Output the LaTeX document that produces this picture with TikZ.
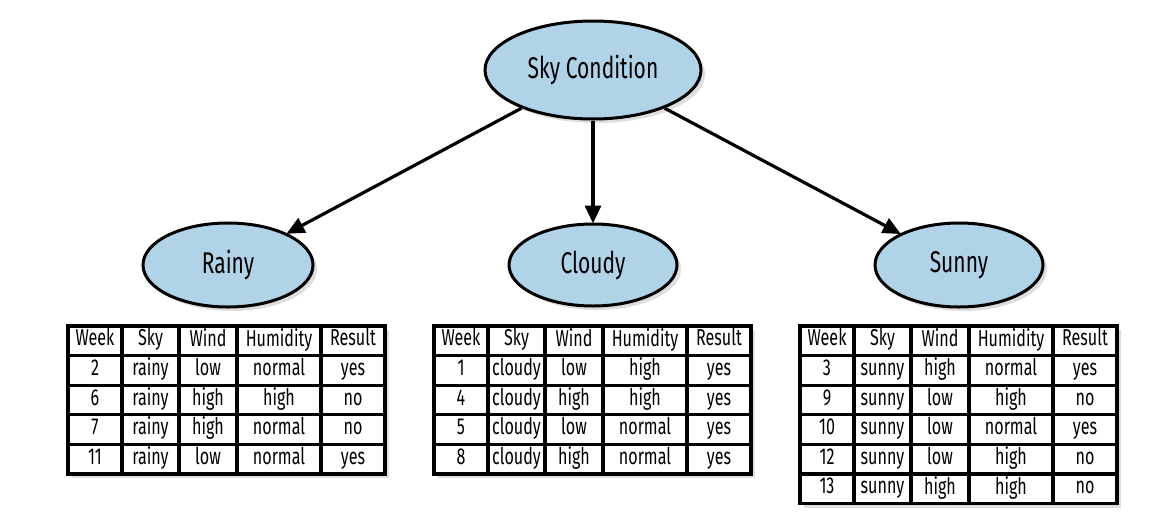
\documentclass[tikz,border=0pt]{standalone}
\usepackage{fontspec}
\setmainfont{Fira Sans}[FakeStretch=0.7]
\usetikzlibrary{arrows.meta,shapes.geometric}
\definecolor{nodeblue}{RGB}{176,211,232}
\tikzset{
  bubble/.style={ellipse, draw=black, line width=3pt, fill=nodeblue, inner sep=0pt,
    font=\fontsize{30}{32}\selectfont},
  bshadow/.style={fill=black, opacity=0.13},
  link/.style={line width=3.2pt, -{Triangle[length=18pt,width=16pt]}, shorten >=-1pt},
  grid/.style={line width=3.2pt, line join=miter},
  cell/.style={inner sep=0pt, font=\fontsize{23}{25}\selectfont},
}
\newcommand\tableshadow[2]{% x0, rows
  \fill[bshadow] ({#1+4},{326+4}) rectangle ({#1+317+4},{326+#2*29.6+4});
}
\newcommand\tablegrid[2]{% x0, rows
  \fill[white] (#1,326) rectangle ({#1+317},{326+#2*29.6});
  \draw[grid] (#1,326) rectangle ({#1+317},{326+#2*29.6});
  \foreach \cx in {54,111,169,253}{
    \draw[grid] ({#1+\cx},326) -- ({#1+\cx},{326+#2*29.6});
  }
  \foreach \ry in {1,...,\numexpr#2-1\relax}{
    \draw[grid] (#1,{326+\ry*29.6}) -- ({#1+317},{326+\ry*29.6});
  }
}
\begin{document}
\begin{tikzpicture}[x=1pt,y=-1pt]
\useasboundingbox (0,0) rectangle (1166,512);
% shadows
\fill[bshadow] (597,74) ellipse [x radius=108, y radius=49];
\fill[bshadow] (232,269) ellipse [x radius=85, y radius=42];
\fill[bshadow] (597,269) ellipse [x radius=84, y radius=41];
\fill[bshadow] (963,269) ellipse [x radius=84, y radius=42];
\tableshadow{68}{5}
\tableshadow{434}{5}
\tableshadow{800}{6}
% nodes
\node[bubble, minimum width=216pt, minimum height=98pt] (sky) at (593,70) {Sky Condition};
\node[bubble, minimum width=170pt, minimum height=84pt] (rainy) at (228,265) {Rainy};
\node[bubble, minimum width=168pt, minimum height=82pt] (cloudy) at (593,265) {Cloudy};
\node[bubble, minimum width=168pt, minimum height=84pt] (sunny) at (959,265) {Sunny};
\draw[link] (sky) -- (rainy);
\draw[link] (sky.south) -- (cloudy.north);
\draw[link] (sky) -- (sunny);
% tables
\tablegrid{68}{5}
\tablegrid{434}{5}
\tablegrid{800}{6}
\foreach \tx/\tn/\rows in {68/R/{Week/Sky/Wind/Humidity/Result,2/rainy/low/normal/yes,6/rainy/high/high/no,7/rainy/high/normal/no,11/rainy/low/normal/yes},
  434/C/{Week/Sky/Wind/Humidity/Result,1/cloudy/low/high/yes,4/cloudy/high/high/yes,5/cloudy/low/normal/yes,8/cloudy/high/normal/yes},
  800/S/{Week/Sky/Wind/Humidity/Result,3/sunny/high/normal/yes,9/sunny/low/high/no,10/sunny/low/normal/yes,12/sunny/low/high/no,13/sunny/high/high/no}}{
  \foreach \a/\b/\c/\d/\e [count=\i] in \rows {
    \pgfmathsetmacro\yy{326+14.8+(\i-1)*29.6}
    \node[cell] (\tn-\i-1) at ({\tx+27},\yy) {\strut\a};
    \node[cell] (\tn-\i-2) at ({\tx+82.5},\yy) {\strut\b};
    \node[cell] (\tn-\i-3) at ({\tx+140},\yy) {\strut\c};
    \node[cell] (\tn-\i-4) at ({\tx+211},\yy) {\strut\d};
    \node[cell] (\tn-\i-5) at ({\tx+285},\yy) {\strut\e};
  }
}
\end{tikzpicture}
\end{document}
